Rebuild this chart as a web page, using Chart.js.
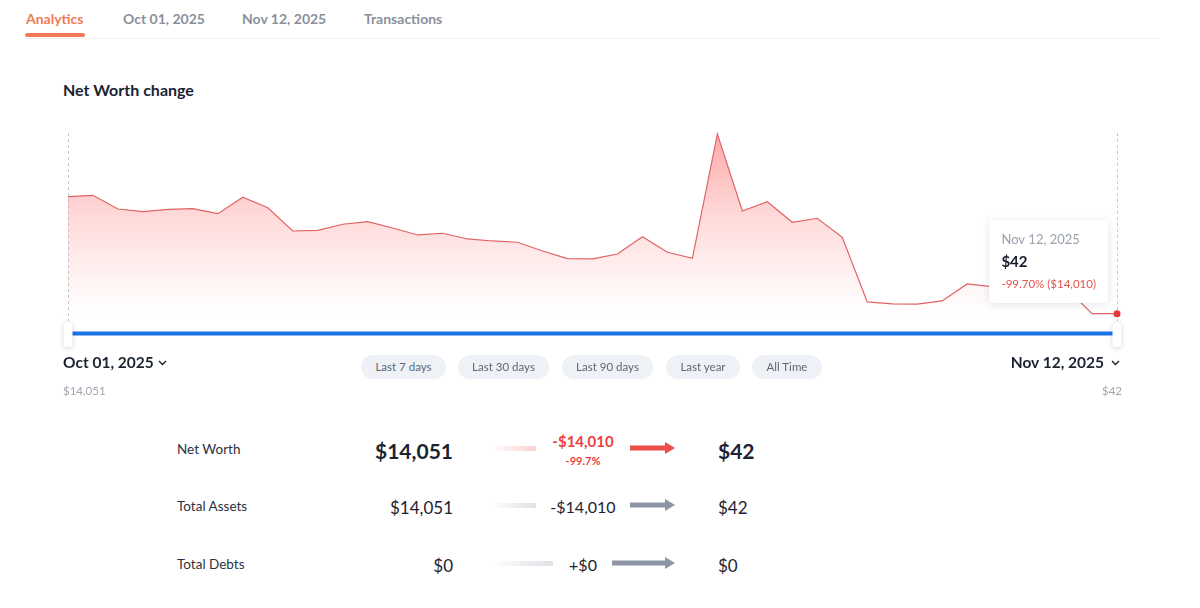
<!DOCTYPE html>
<html>
<head>
<meta charset="utf-8">
<script src="https://cdn.jsdelivr.net/npm/chart.js@4.4.1/dist/chart.umd.min.js"></script>
<style>
  html,body{margin:0;padding:0;background:#fff;}
  body{width:1200px;height:608px;position:relative;overflow:hidden;font-family:Lato,"Noto Sans",sans-serif;color:#1b2332;}
  .t{position:absolute;white-space:nowrap;line-height:1;transform:translateY(-50%);}
  .r{transform:translate(-100%,-50%);}
  .c{transform:translate(-50%,-50%);}
  .tab{font-size:14px;font-weight:700;color:#8a909c;}
  .pill{position:absolute;top:355px;height:24px;border-radius:12px;background:#eef1f6;color:#5f6775;font-size:11.5px;line-height:24px;text-align:center;}
  #wrap{position:absolute;left:0;top:110px;width:1200px;height:250px;}
  .lbl{font-size:13.5px;color:#2b3240;}
  .bar{position:absolute;height:5px;}
</style>
</head>
<body>
<div class="t tab" style="left:26px;top:19px;color:#f07a55;">Analytics</div>
<div class="t tab" style="left:123px;top:19px;">Oct 01, 2025</div>
<div class="t tab" style="left:242px;top:19px;">Nov 12, 2025</div>
<div class="t tab" style="left:364px;top:19px;">Transactions</div>
<div style="position:absolute;left:25px;top:38px;width:1135px;height:1px;background:#eef0f3;"></div>
<div style="position:absolute;left:25px;top:33px;width:60px;height:4px;border-radius:2px;background:#f07a55;"></div>

<div class="t" style="left:63px;top:90px;font-size:16px;font-weight:700;color:#1b2332;">Net Worth change</div>

<div id="wrap"><canvas id="c"></canvas></div>

<div class="t" style="left:63px;top:363px;font-size:15.5px;font-weight:700;color:#1b2332;">Oct 01, 2025</div>
<svg style="position:absolute;left:158px;top:360px" width="9" height="6"><path d="M1 1 L4.5 4.5 L8 1" stroke="#1b2332" stroke-width="1.4" fill="none"/></svg>
<div class="t" id="startSub" style="left:63px;top:391px;font-size:11.5px;color:#a0a6b0;"></div>

<div class="t r" style="left:1104px;top:363px;font-size:15.5px;font-weight:700;color:#1b2332;">Nov 12, 2025</div>
<svg style="position:absolute;left:1111px;top:360px" width="9" height="6"><path d="M1 1 L4.5 4.5 L8 1" stroke="#1b2332" stroke-width="1.4" fill="none"/></svg>
<div class="t r" id="endSub" style="left:1122px;top:391px;font-size:11.5px;color:#a0a6b0;"></div>

<div id="pills"></div>
<div id="rows"></div>

<script>
const dates = [
  "Oct 01, 2025","Oct 02, 2025","Oct 03, 2025","Oct 04, 2025","Oct 05, 2025","Oct 06, 2025","Oct 07, 2025",
  "Oct 08, 2025","Oct 09, 2025","Oct 10, 2025","Oct 11, 2025","Oct 12, 2025","Oct 13, 2025","Oct 14, 2025",
  "Oct 15, 2025","Oct 16, 2025","Oct 17, 2025","Oct 18, 2025","Oct 19, 2025","Oct 20, 2025","Oct 21, 2025",
  "Oct 22, 2025","Oct 23, 2025","Oct 24, 2025","Oct 25, 2025","Oct 26, 2025","Oct 27, 2025","Oct 28, 2025",
  "Oct 29, 2025","Oct 30, 2025","Oct 31, 2025","Nov 01, 2025","Nov 02, 2025","Nov 03, 2025","Nov 04, 2025",
  "Nov 05, 2025","Nov 06, 2025","Nov 07, 2025","Nov 08, 2025","Nov 09, 2025","Nov 10, 2025","Nov 11, 2025",
  "Nov 12, 2025"
];
const netWorth = [
  14051.4, 14220, 12580, 12255, 12543, 12615, 12016, 13980, 12734, 9944,
  10028, 10747, 11058, 10304, 9466, 9669, 8987, 8747, 8591, 7550,
  6628, 6610, 7190, 9262, 7394, 6676, 21560, 12339, 13453, 10986,
  11465, 9190, 1443, 1203, 1180, 1563, 3598, 3275, 3113, 2994,
  2994, 45, 41.6
];
const rangeButtons = ["Last 7 days","Last 30 days","Last 90 days","Last year","All Time"];
const rowLabels = ["Net Worth","Total Assets","Total Debts"];
const startValues = [14051, 14051, 0];
const changeValues = [-14010, -14010, 0];
const endValues = [42, 42, 0];
const netWorthPct = [-99.7];

const fmt = v => (v < 0 ? "-" : "") + "$" + Math.round(Math.abs(v)).toLocaleString("en-US");
const fmtChg = v => (v < 0 ? "-" : "+") + "$" + Math.round(Math.abs(v)).toLocaleString("en-US");

// pills
const pillPos = [[361,85],[458,91],[562,91],[666,74],[752,70]];
document.getElementById("pills").innerHTML = rangeButtons.map((b,i)=>
  `<div class="pill" style="left:${pillPos[i][0]}px;width:${pillPos[i][1]}px;">${b}</div>`).join("");

document.getElementById("startSub").textContent = fmt(netWorth[0]);
document.getElementById("endSub").textContent = fmt(netWorth[netWorth.length-1]);

// summary rows
const rowY = [450, 507, 565];
let html = "";
rowLabels.forEach((lab,i)=>{
  const y = rowY[i];
  const main = i === 0;
  const red = main;
  const barW = i === 2 ? 63 : 46;
  const arrX = i === 2 ? 612 : 630;
  const arrW = 675 - arrX;
  const col = red ? "#ee4b4b" : "#8e95a5";
  html += `<div class="t lbl" style="left:177px;top:${y}px;">${lab}</div>`;
  html += `<div class="t r" style="left:453px;top:${y}px;font-size:${main?21:17}px;font-weight:${main?700:400};color:#1b2332;">${fmt(startValues[i])}</div>`;
  html += `<div class="bar" style="left:490px;top:${y-4.5}px;width:${barW}px;background:linear-gradient(to right, rgba(255,255,255,0), ${red?'#fbd0d0':'#dfe1e6'});"></div>`;
  if (main) {
    html += `<div class="t c" style="left:583px;top:${y-9}px;font-size:15px;font-weight:700;color:#ee4040;">${fmtChg(changeValues[i])}</div>`;
    html += `<div class="t c" style="left:583px;top:${y+10}px;font-size:11px;font-weight:700;color:#ee4040;">${netWorthPct[0]}%</div>`;
  } else {
    html += `<div class="t c" style="left:583px;top:${y}px;font-size:16px;color:#1b2332;">${fmtChg(changeValues[i])}</div>`;
  }
  html += `<svg style="position:absolute;left:${arrX}px;top:${y-8}px" width="${arrW}" height="12"><rect x="0" y="3.5" width="${arrW-9}" height="5" fill="${col}"/><polygon points="${arrW-10},0 ${arrW},6 ${arrW-10},12" fill="${col}"/></svg>`;
  html += `<div class="t" style="left:718px;top:${y}px;font-size:${main?21:17}px;font-weight:${main?700:400};color:#1b2332;">${fmt(endValues[i])}</div>`;
});
document.getElementById("rows").innerHTML = html;

// chart
const lastIdx = netWorth.length - 1;
const overlay = {
  id: "overlay",
  beforeDatasetsDraw(chart) {
    const {ctx, chartArea, scales:{x}} = chart;
    ctx.save();
    ctx.strokeStyle = "#c4c8cf";
    ctx.lineWidth = 1;
    ctx.setLineDash([3,3]);
    [0, lastIdx].forEach(i=>{
      const px = Math.round(x.getPixelForValue(i)) + 0.5;
      ctx.beginPath();
      ctx.moveTo(px, chartArea.top - 1);
      ctx.lineTo(px, chartArea.bottom + 8);
      ctx.stroke();
    });
    ctx.restore();
  },
  afterDatasetsDraw(chart) {
    const {ctx, chartArea, scales:{x}} = chart;
    const x0 = x.getPixelForValue(0), x1 = x.getPixelForValue(lastIdx);
    const ty = chartArea.bottom + 19.5;
    ctx.save();
    ctx.fillStyle = "#1a74e8";
    ctx.fillRect(x0 + 4, ty - 2, x1 - x0 - 8, 4);
    [x0, x1].forEach(cx=>{
      const top = chartArea.bottom + 7, bot = chartArea.bottom + 33, hw = 4.5;
      ctx.save();
      ctx.shadowColor = "rgba(0,0,0,0.18)";
      ctx.shadowBlur = 5;
      ctx.shadowOffsetY = 1;
      ctx.fillStyle = "#fff";
      ctx.beginPath();
      ctx.moveTo(cx, top);
      ctx.lineTo(cx + hw, top + 4);
      ctx.lineTo(cx + hw, bot - 2);
      ctx.quadraticCurveTo(cx + hw, bot, cx + hw - 2, bot);
      ctx.lineTo(cx - hw + 2, bot);
      ctx.quadraticCurveTo(cx - hw, bot, cx - hw, bot - 2);
      ctx.lineTo(cx - hw, top + 4);
      ctx.closePath();
      ctx.fill();
      ctx.restore();
    });
    ctx.restore();
  },
  beforeTooltipDraw(chart, args) {
    const t = args.tooltip, ctx = chart.ctx;
    ctx.save();
    ctx.shadowColor = "rgba(20,30,50,0.12)";
    ctx.shadowBlur = 8;
    ctx.shadowOffsetY = 1;
    ctx.fillStyle = "#fff";
    ctx.beginPath();
    ctx.roundRect(t.x, t.y, t.width, t.height, 4);
    ctx.fill();
    ctx.restore();
  }
};

Chart.Tooltip.positioners.offsetAbove = function(items) {
  if (!items.length) return false;
  const el = items[0].element;
  return {x: el.x, y: el.y - 52};
};

const chart = new Chart(document.getElementById("c"), {
  type: "line",
  data: {
    labels: dates,
    datasets: [{
      data: netWorth,
      borderColor: "#e06262",
      borderWidth: 1.2,
      tension: 0,
      clip: false,
      fill: "origin",
      backgroundColor: (c) => {
        const area = c.chart.chartArea;
        if (!area) return "rgba(255,120,120,0.3)";
        const g = c.chart.ctx.createLinearGradient(0, area.top, 0, area.bottom);
        g.addColorStop(0, "rgba(255,110,110,0.6)");
        g.addColorStop(0.45, "rgba(255,120,120,0.28)");
        g.addColorStop(1, "rgba(255,130,130,0)");
        return g;
      },
      pointRadius: (c) => c.dataIndex === lastIdx ? 3.5 : 0,
      pointHoverRadius: (c) => c.dataIndex === lastIdx ? 3.5 : 0,
      pointBackgroundColor: "#e53935",
      pointBorderWidth: 0,
      pointHoverBorderWidth: 0,
      pointHoverBackgroundColor: "#e53935"
    }]
  },
  options: {
    responsive: true,
    maintainAspectRatio: false,
    animation: false,
    events: [],
    layout: {padding: {left: 68, right: 83, top: 24, bottom: 46}},
    scales: {
      x: {display: false, offset: false},
      y: {display: false, min: 0, max: Math.max(...netWorth)}
    },
    plugins: {
      legend: {display: false},
      tooltip: {
        enabled: true,
        position: "offsetAbove",
        xAlign: "right",
        yAlign: "center",
        backgroundColor: "#ffffff",
        borderWidth: 0,
        cornerRadius: 4,
        caretSize: 0,
        caretPadding: 9,
        displayColors: false,
        padding: {top: 12, bottom: 12, left: 12, right: 12},
        titleFont: {family: "Lato", size: 13, weight: "normal"},
        titleColor: "#9aa1ad",
        titleMarginBottom: 5,
        bodyFont: {family: "Lato", size: 15, weight: "bold"},
        bodyColor: "#151c2c",
        footerFont: {family: "Lato", size: 11.5, weight: "normal"},
        footerColor: "#e5534b",
        footerMarginTop: 6,
        callbacks: {
          title: (items) => items[0].label,
          label: (item) => fmt(item.parsed.y),
          footer: (items) => {
            const v = items[0].parsed.y, v0 = netWorth[0];
            const pct = ((v - v0) / v0 * 100).toFixed(2);
            return pct + "% (" + fmt(v0 - v) + ")";
          }
        }
      }
    }
  },
  plugins: [overlay]
});
const el = chart.getDatasetMeta(0).data[lastIdx];
chart.tooltip.setActiveElements([{datasetIndex: 0, index: lastIdx}], {x: el.x, y: el.y});
chart.update();
</script>
</body>
</html>
